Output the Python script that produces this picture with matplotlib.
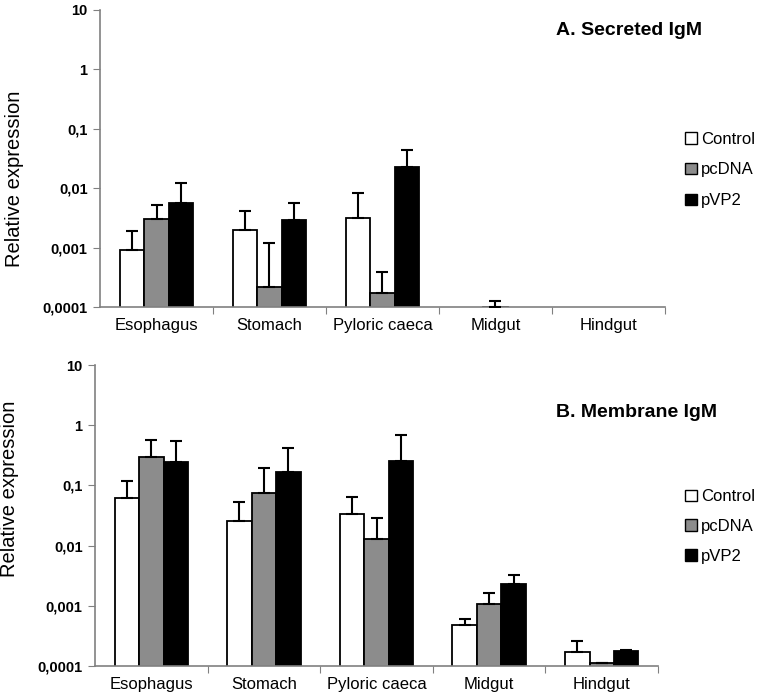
import numpy as np
import matplotlib
matplotlib.use('Agg')
import matplotlib.pyplot as plt
from matplotlib.patches import Patch

plt.rcParams['font.family'] = ['Liberation Sans', 'DejaVu Sans']

tissues = ['Esophagus', 'Stomach', 'Pyloric caeca', 'Midgut', 'Hindgut']
groups = ['Control', 'pcDNA', 'pVP2']
group_colors = ['white', '#8c8c8c', 'black']

# A. Secreted IgM (mean and top of error bar), nan = not detected
sec_control = [0.00092, 0.00196, 0.0032, np.nan, np.nan]
sec_control_err = [0.0019, 0.0042, 0.0083, np.nan, np.nan]
sec_pcdna = [0.0030, 0.00022, 0.00017, 0.0001, np.nan]
sec_pcdna_err = [0.0053, 0.00119, 0.00039, 0.000127, np.nan]
sec_pvp2 = [0.0057, 0.0029, 0.023, np.nan, np.nan]
sec_pvp2_err = [0.0124, 0.0056, 0.044, np.nan, np.nan]

# B. Membrane IgM
mem_control = [0.061, 0.026, 0.033, 0.00048, 0.000169]
mem_control_err = [0.118, 0.053, 0.065, 0.00061, 0.00026]
mem_pcdna = [0.293, 0.074, 0.0127, 0.00107, 0.000112]
mem_pcdna_err = [0.575, 0.192, 0.0284, 0.00165, 0.000112]
mem_pvp2 = [0.245, 0.167, 0.257, 0.00233, 0.000179]
mem_pvp2_err = [0.553, 0.413, 0.687, 0.0032, 0.000186]

ytick_vals = [0.0001, 0.001, 0.01, 0.1, 1, 10]
ytick_labels = ['0,0001', '0,001', '0,01', '0,1', '1', '10']

fig = plt.figure(figsize=(7.59, 6.99), dpi=100)
ax_a = fig.add_axes([0.1318, 0.5608, 0.7442, 0.4249])
ax_b = fig.add_axes([0.1252, 0.0472, 0.7418, 0.4306])


def draw_panel(ax, means, tops, title, title_xy, legend_y, label_y, spacing):
    width = 0.217
    x = np.arange(len(tissues)) + 0.5
    for k, (m, t) in enumerate(zip(means, tops)):
        m = np.array(m, dtype=float)
        t = np.array(t, dtype=float)
        xs = x + (k - 1) * width
        ax.bar(xs, m, width=width, color=group_colors[k], edgecolor='black',
               linewidth=1.3, zorder=2)
        up = t - m
        ax.errorbar(xs, m, yerr=[np.zeros_like(up), up], fmt='none',
                    ecolor='black', elinewidth=1.5, capsize=4, capthick=1.5,
                    zorder=3)
    ax.set_yscale('log')
    ax.set_ylim(0.0001, 10)
    ax.set_xlim(0, len(tissues))
    ax.set_yticks(ytick_vals)
    ax.set_yticklabels(ytick_labels, fontweight='bold', fontsize=10.5)
    ax.minorticks_off()
    ax.set_xticks(np.arange(1, len(tissues) + 1))
    ax.set_xticklabels([])
    ax.set_xticks(x, minor=True)
    ax.set_xticklabels(tissues, minor=True, fontsize=12)
    ax.tick_params(axis='x', which='minor', length=0, pad=8)
    ax.tick_params(axis='x', which='major', length=5, color='#808080', direction='out')
    ax.tick_params(axis='y', length=5, color='#808080', direction='out', pad=4)
    for s in ['top', 'right']:
        ax.spines[s].set_visible(False)
    for s in ['left', 'bottom']:
        ax.spines[s].set_color('#808080')
        ax.spines[s].set_linewidth(1.2)
    ax.set_ylabel('Relative expression', fontsize=14.5)
    ax.yaxis.set_label_coords(-0.135, label_y)
    fig.text(title_xy[0], title_xy[1], title, fontsize=14, fontweight='bold',
             ha='left', va='center')
    handles = [Patch(facecolor=c, edgecolor='black', linewidth=1) for c in group_colors]
    fig.legend(handles, groups, loc='center left', bbox_to_anchor=(0.892, legend_y),
               frameon=False, fontsize=12, handlelength=0.7, handleheight=0.7,
               handletextpad=0.25, labelspacing=spacing, borderpad=0)


draw_panel(ax_a, [sec_control, sec_pcdna, sec_pvp2],
           [sec_control_err, sec_pcdna_err, sec_pvp2_err],
           'A. Secreted IgM', (0.733, 0.956), 0.757, 0.43, 0.95)
draw_panel(ax_b, [mem_control, mem_pcdna, mem_pvp2],
           [mem_control_err, mem_pcdna_err, mem_pvp2_err],
           'B. Membrane IgM', (0.733, 0.41), 0.247, 0.59, 0.88)

fig.savefig('out.png', dpi=100)
